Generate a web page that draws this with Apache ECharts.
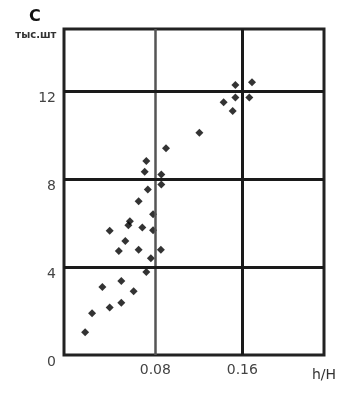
<!DOCTYPE html>
<html>
<head>
<meta charset="utf-8">
<script src="https://cdn.jsdelivr.net/npm/echarts@6/dist/echarts.min.js"></script>
<style>html,body{margin:0;padding:0;background:#fff;}#c{width:350px;height:396px;}</style>
</head>
<body>
<div id="c"></div>
<script>
// h/H values (x) and thousand pieces (y)
var hh = [0.0898,0.0717,0.0702,0.0855,0.0855,0.0731,0.0646,0.0779,0.0566,0.0552,
          0.0380,0.0680,0.0779,0.0524,0.0464,0.0646,0.0851,0.0759,0.0717,0.0487,
          0.0313,0.0600,0.0487,0.0380,0.0218,0.0154,0.1205,0.1428,0.1511,0.1536,
          0.1664,0.1536,0.1689];
var counts = [9.40,8.82,8.33,8.21,7.75,7.52,6.99,6.40,6.08,5.90,
              5.65,5.79,5.67,5.18,4.73,4.78,4.78,4.40,3.77,3.36,
              3.09,2.90,2.38,2.16,1.90,1.03,10.10,11.49,11.09,11.70,
              11.70,12.27,12.40];
var xTicks = [0.08, 0.16];
var yTicks = [0, 4, 8, 12];

var pts = hh.map(function(v, i){ return [v, counts[i]]; });
var gridLines = xTicks.map(function(v, i){
  return i === 0 ? {xAxis: v, lineStyle: {color: '#555', width: 2.5}} : {xAxis: v};
}).concat(yTicks.filter(function(v){ return v > 0; }).map(function(v){ return {yAxis: v}; }));

var font = 'DejaVu Sans';
var chart = echarts.init(document.getElementById('c'), null, {renderer: 'canvas'});
chart.setOption({
  animation: false,
  backgroundColor: '#fff',
  title: {
    text: 'C', left: 24, top: 4,
    textStyle: {fontFamily: font, fontSize: 16, fontWeight: 'bold', color: '#111'}
  },
  grid: {
    left: 64, right: 26, top: 29, bottom: 41,
    show: true, borderColor: '#222', borderWidth: 3, backgroundColor: 'transparent'
  },
  xAxis: {
    type: 'value', min: -0.004, max: 0.2351,
    axisLine: {show: false}, axisTick: {show: false}, splitLine: {show: false},
    axisLabel: {
      customValues: xTicks, margin: 8, fontFamily: font, fontSize: 14, color: '#444',
      formatter: function(v){ return v.toFixed(2); }
    },
    name: 'h/H', nameLocation: 'end', nameGap: 0,
    nameTextStyle: {fontFamily: font, fontSize: 14, color: '#333', align: 'center', verticalAlign: 'top', padding: [13, 0, 0, 0]}
  },
  yAxis: {
    type: 'value', min: 0, max: 14.818,
    axisLine: {show: false}, axisTick: {show: false}, splitLine: {show: false},
    axisLabel: {
      customValues: yTicks, margin: 8, fontFamily: font, fontSize: 14, color: '#444',
      verticalAlign: 'top'
    },
    name: 'тыс.шт', nameLocation: 'end', nameGap: -6,
    nameTextStyle: {fontFamily: font, fontSize: 10, fontWeight: 'bold', color: '#333', align: 'right', verticalAlign: 'middle', padding: [0, 12, 0, 0]}
  },
  series: [{
    type: 'scatter',
    data: pts,
    symbol: 'diamond',
    symbolSize: 8,
    itemStyle: {color: '#000'},
    markLine: {
      silent: true, symbol: ['none', 'none'], label: {show: false},
      lineStyle: {color: '#1a1a1a', width: 3, type: 'solid'},
      data: gridLines
    }
  }]
});
</script>
</body>
</html>
